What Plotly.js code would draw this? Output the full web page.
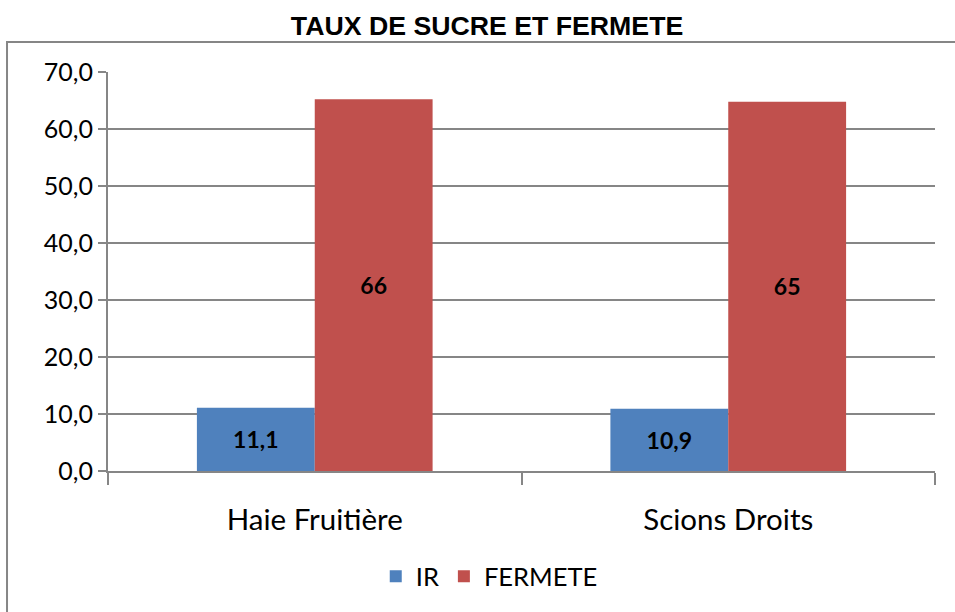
<!DOCTYPE html>
<html>
<head>
<meta charset="utf-8">
<script src="https://cdn.plot.ly/plotly-3.0.1.min.js"></script>
<style>html,body{margin:0;padding:0;background:#fff;}#chart{width:955px;height:612px;}</style>
</head>
<body>
<div id="chart"></div>
<script>
var categories = ["Haie Fruitière", "Scions Droits"];
var irValues = [11.1, 10.9];
var fermeteValues = [65.2, 64.8];
var irLabels = ["11,1", "10,9"];
var fermeteLabels = ["66", "65"];
var yTickValues = [0, 10, 20, 30, 40, 50, 60, 70];

var labelFont = {family: "Lato, 'Open Sans', sans-serif", size: 23, color: "#000", weight: 700};

var traces = [
  {type: "bar", name: "IR", x: categories, y: irValues, text: irLabels, texttemplate: "<b>%{text}</b>",
   textposition: "inside", insidetextanchor: "middle", textfont: labelFont, textangle: 0,
   marker: {color: "#4F81BD"}, hoverinfo: "none"},
  {type: "bar", name: "FERMETE", x: categories, y: fermeteValues, text: fermeteLabels, texttemplate: "<b>%{text}</b>",
   textposition: "inside", insidetextanchor: "middle", textfont: labelFont, textangle: 0,
   marker: {color: "#C0504D"}, hoverinfo: "none"}
];

var layout = {
  width: 955, height: 612,
  margin: {l: 108, r: 20, t: 72, b: 141},
  paper_bgcolor: "#fff", plot_bgcolor: "#fff",
  separators: ", ",
  barmode: "group", bargap: 0.43, bargroupgap: 0,
  font: {family: "Lato, 'Open Sans', sans-serif", color: "#000"},
  title: {text: "<b>TAUX DE SUCRE ET FERMETE</b>", x: 0.51, xanchor: "center", y: 0.958, yanchor: "middle", yref: "container",
    font: {family: "'Liberation Sans', Arial, sans-serif", size: 26.7, color: "#000"}},
  xaxis: {type: "category", showline: true, linecolor: "#868686", linewidth: 2, ticks: "outside", tickson: "boundaries",
    ticklen: 12, tickwidth: 2, tickcolor: "#868686", showgrid: false, ticklabelstandoff: 22,
    tickfont: {family: "Lato, 'Open Sans', sans-serif", size: 29.5, color: "#000"}},
  yaxis: {range: [0, 70], tickvals: yTickValues, tickformat: ".1f", ticksuffix: "\u00A0\u00A0\u00A0", showline: true, linecolor: "#868686", linewidth: 2,
    ticks: "outside", ticklen: 8, tickwidth: 2, tickcolor: "#868686", showgrid: true, gridcolor: "#868686", gridwidth: 2,
    zeroline: false, tickfont: {family: "Lato, 'Open Sans', sans-serif", size: 25, color: "#000"}},
  legend: {orientation: "h", x: 0.461, xanchor: "center", y: -0.265, yanchor: "middle",
    font: {family: "Lato, 'Open Sans', sans-serif", size: 25.5, color: "#000"}, itemwidth: 30, traceorder: "normal"},
  shapes: [{type: "rect", xref: "paper", yref: "paper", x0: -0.1221, x1: 1.2, y0: -0.6, y1: 1.0752,
    line: {color: "#868686", width: 2}, fillcolor: "rgba(0,0,0,0)", layer: "below"}],
  showlegend: true
};

Plotly.newPlot("chart", traces, layout, {displayModeBar: false, staticPlot: true});
</script>
</body>
</html>
